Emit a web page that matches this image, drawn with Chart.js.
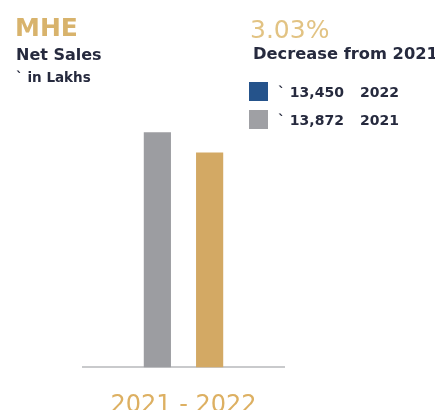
<!DOCTYPE html>
<html>
<head>
<meta charset="utf-8">
<script src="https://cdn.jsdelivr.net/npm/chart.js@4.4.1/dist/chart.umd.min.js"></script>
<style>
  html, body { margin: 0; padding: 0; background: #fff; overflow: hidden; }
  body { width: 435px; height: 410px; position: relative; font-family: "DejaVu Sans", sans-serif; }
  .txt { position: absolute; line-height: 1; white-space: nowrap; }
  #chart-box { position: absolute; left: 0; top: 0; width: 435px; height: 448px; }
  .swatch { position: absolute; width: 19px; height: 19px; }
</style>
</head>
<body>
<div id="chart-box"><canvas id="salesChart"></canvas></div>

<div class="txt" style="left:15px;top:15px;font-size:25px;font-weight:700;color:#D8B36C;">MHE</div>
<div class="txt" style="left:16px;top:47px;font-size:16px;font-weight:700;color:#262A3E;">Net Sales</div>
<div class="txt" style="left:16px;top:71px;font-size:13.5px;font-weight:700;color:#262A3E;">`&nbsp;in Lakhs</div>

<div class="txt" id="change-pct" style="left:250px;top:17px;font-size:25px;color:#E2C383;"></div>
<div class="txt" id="change-text" style="left:253px;top:46px;font-size:16.3px;font-weight:700;color:#262A3E;"></div>
<div id="legend"></div>

<script>
// Net sales, Rs in Lakhs
const years = ['2021', '2022'];
const netSales = [13872, 13450];
const barColors = ['#9C9DA1', '#D3A964'];
const legendColors = ['#9FA0A4', '#25538B'];
const periodLabels = ['2021 - 2022'];
const changePct = '3.03%';
const changeText = 'Decrease from 2021';

document.getElementById('change-pct').textContent = changePct;
document.getElementById('change-text').textContent = changeText;

// Legend lists the latest year first
function buildLegend() {
  const legend = document.getElementById('legend');
  const rowTops = [82, 110];
  const order = [1, 0];
  order.forEach((i, row) => {
    const top = rowTops[row];
    const sw = document.createElement('div');
    sw.className = 'swatch';
    sw.style.left = '249px';
    sw.style.top = top + 'px';
    sw.style.background = legendColors[i];
    legend.appendChild(sw);

    const val = document.createElement('div');
    val.className = 'txt';
    val.style.cssText = 'left:278px;font-size:14px;font-weight:700;color:#262A3E;top:' + (top + 3) + 'px;';
    val.innerHTML = '`&nbsp;' + netSales[i].toLocaleString('en-US');
    legend.appendChild(val);

    const yr = document.createElement('div');
    yr.className = 'txt';
    yr.style.cssText = 'left:360px;font-size:14px;font-weight:700;color:#262A3E;top:' + (top + 3) + 'px;';
    yr.textContent = years[i];
    legend.appendChild(yr);
  });
}

function createSalesChart() {
  const ctx = document.getElementById('salesChart').getContext('2d');
  const datasets = years.map((yr, i) => ({
    label: yr,
    data: [netSales[i]],
    backgroundColor: barColors[i],
    borderWidth: 0,
    categoryPercentage: 0.52,
    barPercentage: 0.52
  }));

  new Chart(ctx, {
    type: 'bar',
    data: { labels: periodLabels, datasets: datasets },
    options: {
      responsive: true,
      maintainAspectRatio: false,
      animation: false,
      layout: { padding: { left: 83, right: 151, top: 126, bottom: 4 } },
      scales: {
        x: {
          grid: { display: false, drawTicks: false },
          border: { display: true, color: '#C9CACC', width: 2 },
          ticks: {
            padding: 24,
            color: '#DDB062',
            font: { family: 'DejaVu Sans', size: 24 }
          }
        },
        y: {
          display: false,
          min: 9000,
          max: 14000
        }
      },
      plugins: {
        legend: { display: false },
        tooltip: { enabled: false }
      }
    }
  });
}

window.addEventListener('load', function() {
  buildLegend();
  createSalesChart();
});
</script>
</body>
</html>
